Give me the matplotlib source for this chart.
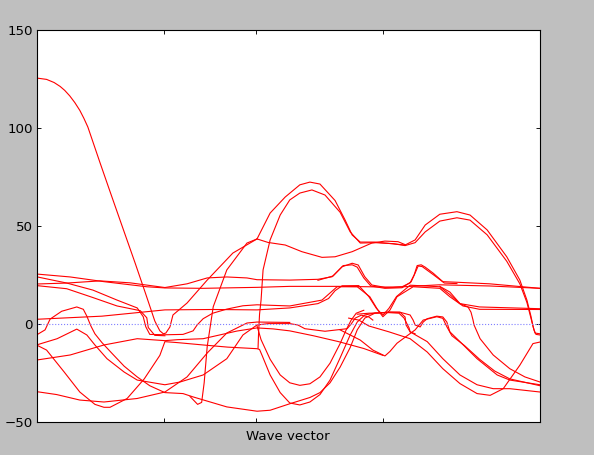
import matplotlib
matplotlib.use("Agg")
import matplotlib.pyplot as plt

# k-path position (0..100) and energies
band_top_k = [0, 2.0, 3.5, 4.7, 5.6, 6.6, 7.6, 8.6, 9.4, 10.2, 12.6, 14.6, 17.0, 19.6, 21.6, 23.5, 24.5, 25.2, 25.7, 26.5, 27.1, 29.9, 33.9, 39.0, 43.8, 46.4, 49.4, 52.3, 54.3, 56.3, 59.3, 61.3, 62.7, 64.3, 67.2, 71.2, 73.2, 75.2, 77.2, 80.1, 83.5, 86.1, 89.5, 93.4, 96.0, 97.4, 98.2, 98.6, 99.0, 100]
band_top_e = [125.5, 124.8, 123.2, 121.2, 119.2, 116.4, 113, 109, 105, 100.5, 82.4, 67.6, 50, 31, 16, 1.5, -3.5, -5, -4.6, -1.5, 4.6, 10.7, 22.4, 36.2, 43.4, 56.6, 64.8, 71, 72.4, 71.4, 63, 53, 45.4, 41.8, 41.8, 40.8, 40.3, 42.9, 50.5, 56, 57.3, 55.6, 48, 34.3, 22.4, 12.2, 4, -1, -4.6, -5]

band_arc_k = [44.0, 44.1, 44.2, 44.3, 44.6, 45.0, 46.4, 48.4, 50.3, 52.3, 54.7, 57.3, 60.3, 62.3, 64.3, 67.2, 70.8, 73.2, 75.2, 77.2, 80.1, 83.5, 86.1, 89.5, 93.4, 96.0, 97.4, 98.2, 98.8, 99.2, 100]
band_arc_e = [-12.4, -5, 0, 5, 12.2, 27.6, 42.9, 55.6, 63.3, 66.8, 68.4, 65.8, 57, 47, 41.3, 41.5, 41, 40, 41.5, 47, 52.5, 54.2, 53, 45.5, 32, 20.5, 11, 3, -3, -5.3, -5.6]

band_mid_k = [43.8, 46.0, 49.4, 52.7, 56.7, 59.3, 62.7, 66.6, 69.2, 71.8, 73.2]
band_mid_e = [43.4, 41.6, 40.3, 36.9, 34, 34.3, 36.9, 41.3, 42.3, 42, 40.5]

band_a_k = [0, 6.7, 13.4, 21.9, 25.5, 33, 43.8, 50.3, 60.3, 66, 70.8, 80, 90, 100]
band_a_e = [25.5, 24, 21.6, 19, 18.4, 18.2, 18.7, 19.2, 19.2, 19, 18.7, 20.0, 19.4, 18.2]

band_b_k = [0, 6.1, 12.6, 18.6, 25.5, 29.9, 33.9, 37.8, 41.8, 43.8, 50.3, 55.9, 58.7, 60.7, 62.7, 63.9, 65.2, 66.6, 69.2, 72.6, 74.2, 75.0, 75.6, 76.4, 77.2, 78.8, 80.7, 83.5, 90, 100]
band_b_e = [20.4, 20.9, 22, 21, 18.6, 20.5, 23.5, 24, 23.5, 22.6, 22.4, 22.8, 24.1, 29.2, 31, 30.1, 24.1, 19.9, 18.7, 19, 21, 25, 29.8, 30.2, 29, 25.9, 21.6, 21.3, 20.5, 18.2]

band_b2_k = [55.9, 58.9, 60.9, 62.7, 63.7, 65.0, 66.4, 69.2, 72.6, 74.4, 75.2, 75.8, 76.6, 77.4, 79.0, 81.0, 83.5]
band_b2_e = [22.3, 24.5, 29.8, 30.2, 29, 23.5, 19.4, 18.2, 18.5, 21.5, 26, 29.6, 29.3, 27.8, 24.8, 20.9, 20.6]

band_c_k = [0, 6, 11.2, 16, 20, 21.2, 21.7, 22.5, 25.5, 29.1, 31.1, 31.9, 33.1, 35, 37.8, 41, 43.8, 50.3, 56.7, 59.7, 63.7, 66.2, 67.8, 68.8, 70.2, 71.6, 74.8, 80.1, 82.1, 84.7, 88, 100]
band_c_e = [24.1, 20.9, 17.3, 12.2, 8.2, 3.7, -1.4, -5.3, -5.5, -5.3, -3.5, -0.5, 2.7, 5.5, 7.6, 9.3, 9.8, 9.2, 12.2, 19, 19, 13.9, 7.1, 3.7, 7.1, 13.9, 19, 18.2, 13.9, 9.2, 7.5, 7.4]

band_d_k = [0, 6, 11.2, 16, 20.6, 21.9, 22.2, 23.5, 25.5]
band_d_e = [19.6, 18, 13.5, 9.2, 6.8, 3.2, -1.8, -5.8, -6]

band_7_k = [0, 13, 25.5, 35, 43.8, 50.3, 55.9, 58, 59.3, 60.7, 64, 66, 67.5, 68.8, 70, 71.5, 74.2, 80.1, 82.1, 84.1, 88, 100]
band_7_e = [2.4, 4, 7.2, 7.4, 7.2, 8.2, 10.4, 13, 17, 19.5, 19.6, 14, 8, 4.5, 8, 14, 19.8, 19, 15, 10.4, 8.7, 7.8]

band_e_k = [0, 1.7, 2.7, 5, 8, 9.3, 10, 10.8, 11.6, 13, 15, 17.4, 20, 22.5, 25.5, 29.1, 31.1, 37.8, 43.8, 46.4, 50.3, 54.3, 56.3, 58.3, 60.3, 62.3, 63.7, 65.2, 67.2, 70.2, 72.2, 74.2, 74.8, 75.2, 76.2, 76.8, 77.6, 79.5, 80.7, 81.5, 82.1, 84.1, 87.5, 91.5, 94, 100]
band_e_e = [-5.6, -3, 2.5, 6.5, 8.7, 7.5, 4, -1, -5, -9.5, -15, -21.5, -27, -31.5, -35, -35.5, -37.2, -42.3, -44.5, -44, -40.7, -37.5, -35, -30, -22, -12, -3, 3, 5.5, 6.1, 6, 4.6, 2, -0.5, -1.5, 1, 2.7, 4, 3.6, 1, -4, -9, -17.7, -26, -28.6, -31]

band_f_k = [0, 4.1, 8, 10, 11.6, 14, 17.4, 20, 25.5, 28.5, 33.1, 37.8, 41, 43.8, 46, 50.3, 51.9, 53.3, 57.3, 61.7, 62.5, 63.3, 64.5, 66, 66.8]
band_f_e = [-10.7, -7.5, -2.6, -5.6, -10.7, -17.7, -24.5, -28.6, -31, -29.6, -26, -17.7, -5.6, -0.5, 0.2, 0.2, -0.5, -2.4, -3.7, -2.4, 0, 3, 4.5, 3.6, 2]

band_u_k = [43.8, 44.6, 46.4, 48.4, 50.3, 52.3, 54.3, 56.3, 58.3, 60.3, 61.5, 62.5, 63.5, 65.0]
band_u_e = [-1, -8, -18, -26, -30, -31.3, -30.5, -27, -20, -10, -3, 2, 5.5, 7]

band_v_k = [60.3, 64.3, 66.8, 69.2, 70.2, 71.6, 75.2, 76.8, 79.5, 80.7, 81.5, 82.5, 85, 88, 91, 94, 100]
band_v_e = [-3, -8.2, -13.3, -16.3, -14, -9.8, -3, 2, 3.7, 2.9, -1.4, -6, -11, -18, -24, -28, -31.5]

band_g_k = [63.7, 66, 70, 72, 73, 74, 74.2, 77.6, 80.7, 84.1, 87.5, 90.7, 94, 100]
band_g_e = [5, 5.5, 5.8, 5.5, 3, -2, -4, -9, -17.7, -26, -31, -33, -33, -34.7]

band_h_k = [62, 64, 66, 70, 74.2, 77.6, 80.7, 84.1, 87.5, 90.1, 92.7, 96, 98.6, 100]
band_h_e = [3, 2, -1, -4, -7.5, -14.3, -22.8, -30.4, -35.5, -36.4, -33, -21, -10, -9.2]

band_i_k = [80.1, 82.1, 84.1, 85.7, 86.3, 86.7, 86.9, 87.5, 88.1, 90.7, 94, 97, 100]
band_i_e = [19.2, 16.3, 10.4, 8.7, 6, 2, -0.5, -4, -7.5, -15.8, -22.8, -27, -29.6]

band_bot_k = [0, 4, 8.6, 13.4, 20, 25.5, 29.9, 33.9, 37.8, 41.8, 43.8, 50.3]
band_bot_e = [-34.5, -36, -38.8, -39.8, -38, -34.7, -27, -14.8, -4.6, 0.5, 1, 0.8]

band_dip_k = [0, 2, 5.5, 8.6, 11.6, 13.4, 14.6, 18, 21.4, 24.5, 25.5, 28, 33.1, 38, 43.8, 44.3, 44.8, 46.4, 48.4, 50.3, 52.3, 54.3, 56.3, 58.3, 60.3, 62.3, 63.7, 65.2, 67.2, 70.2, 72.2, 73.2, 73.4, 74.2, 75.2]
band_dip_e = [-10.7, -13.3, -24.5, -34.7, -41, -42.5, -42.5, -38, -28, -16, -9, -9.5, -10.7, -11.8, -12.6, -13, -16, -26, -35, -40.3, -41.3, -39.8, -36, -28.6, -17.3, -5.6, 1, 4.6, 5.6, 6, 6, 3.6, -0.5, -4, -5]

band_m19_k = [0, 6.7, 13.4, 20, 25.5, 28, 33.1, 39.8, 43.8, 47, 50.3, 55, 60, 65, 68.8]
band_m19_e = [-18.4, -15.8, -10.7, -7.5, -8.5, -8, -7.5, -3.6, -2, -2.5, -3.5, -6, -9, -12.5, -16]

band_steep_k = [30.5, 32.0, 32.8, 33.3, 33.9, 35.1, 37.8, 41.8, 43.8]
band_steep_e = [-37, -41, -40, -30, -11.6, 8.8, 27.6, 41.3, 43.4]

bands = [
    (band_top_k, band_top_e), (band_arc_k, band_arc_e), (band_mid_k, band_mid_e),
    (band_a_k, band_a_e), (band_b_k, band_b_e), (band_b2_k, band_b2_e),
    (band_c_k, band_c_e), (band_d_k, band_d_e), (band_7_k, band_7_e),
    (band_e_k, band_e_e), (band_f_k, band_f_e), (band_u_k, band_u_e),
    (band_v_k, band_v_e), (band_g_k, band_g_e), (band_h_k, band_h_e),
    (band_i_k, band_i_e), (band_bot_k, band_bot_e), (band_dip_k, band_dip_e),
    (band_m19_k, band_m19_e), (band_steep_k, band_steep_e),
]

kpoints = [25.4, 43.5, 68.9]
yticks = [-50, 0, 50, 100, 150]

fig = plt.figure(figsize=(594 / 80, 455 / 80), dpi=80, facecolor="#bfbfbf")
ax = fig.add_axes([36.5 / 594, 33 / 455, 503.5 / 594, 392 / 455])
for k, e in bands:
    ax.plot(k, e, color="red", lw=1.0)
ax.axhline(0, color="#7f7fff", ls=":", lw=1.0)
ax.set_xlim(0, 100)
ax.set_ylim(-50, 150)
ax.set_xticks(kpoints)
ax.set_xticklabels([])
ax.set_yticks(yticks)
ax.set_yticklabels(["\u221250", "0", "50", "100", "150"])
ax.tick_params(direction="in", length=4, top=True, right=True, labelsize=12)
ax.set_xlabel("Wave vector", fontsize=12)
for s in ax.spines.values():
    s.set_linewidth(1.0)
fig.savefig("out.png", dpi=80, facecolor=fig.get_facecolor())
